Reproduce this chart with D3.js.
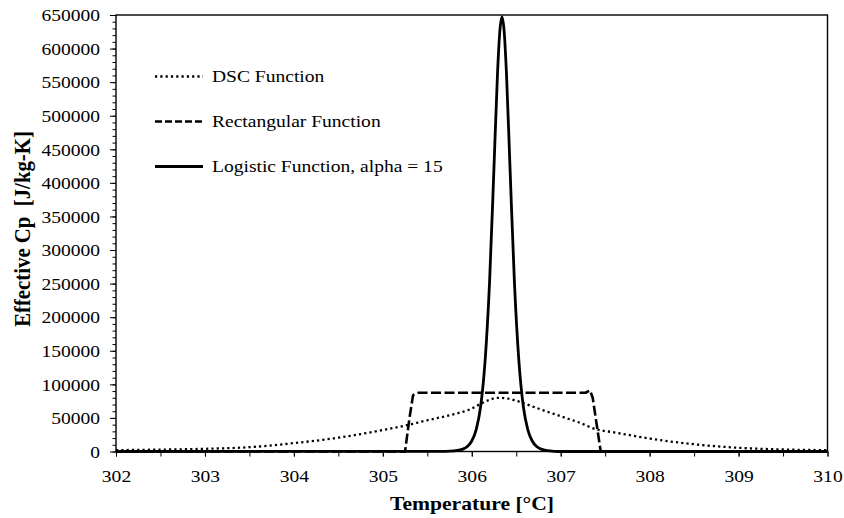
<!DOCTYPE html>
<html><head><meta charset="utf-8">
<script src="https://cdn.jsdelivr.net/npm/d3@7/dist/d3.min.js"></script>
<style>
body{margin:0;background:#fff}
text{font-family:"Liberation Serif","Times New Roman",serif;fill:#000}
</style>
</head><body><svg id="c" width="844" height="518"></svg>
<script>
// ---- data ----
const xTicks = [302,303,304,305,306,307,308,309,310];
const yTicks = [0,50000,100000,150000,200000,250000,300000,350000,400000,450000,500000,550000,600000,650000];
const seriesNames = ["DSC Function","Rectangular Function","Logistic Function, alpha = 15"];

const dscT  = [302.0,302.5,303.0,303.5,304.0,304.5,305.0,305.25,305.5,305.75,306.0,306.1,306.2,306.3,306.4,306.5,306.6,306.8,307.0,307.2,307.4,307.6,307.9,308.2,308.5,309.0,309.5,310.0];
const dscCp = [2000,2800,4000,6400,12500,20500,32000,38500,46500,54000,64000,71000,77000,80000,79000,75500,71000,61500,52500,43500,33000,28500,21500,15500,10800,5500,3000,2000];

const rectT  = [302.0,305.25,305.30,305.34,305.40,307.28,307.33,307.36,307.45,310.0];
const rectCp = [0,0,50000,84000,87500,87500,91000,80000,0,0];

const logT  = [302.0,305.70,305.80,305.90,305.95,306.00,306.05,306.10,306.15,306.20,306.25,306.29,306.315,306.34,306.365,306.39,306.43,306.48,306.53,306.58,306.63,306.68,306.73,306.78,306.88,306.98,310.0];
const logCp = [0,200,790,3500,7400,15600,32700,67000,134800,251500,423400,564000,624700,647000,624700,564000,423400,251500,134800,67000,32700,15600,7400,3500,790,0,0];

// ---- setup ----
const SX = 1.15;
const svg = d3.select('#c');
svg.append('rect').attr('width',844).attr('height',518).attr('fill','#fff');
const x = d3.scaleLinear().domain([302,310]).range([116,827.5]);
const y = d3.scaleLinear().domain([0,650000]).range([451.5,15]);

// minor y ticks
svg.append('g').attr('transform','translate(116,0)')
  .call(d3.axisLeft(y).tickValues(y.ticks(65)).tickSize(3.5).tickFormat(''))
  .call(g=>g.select('.domain').remove())
  .call(g=>g.selectAll('line').attr('stroke','#000').attr('stroke-width',1));
// major y ticks
const gy = svg.append('g').attr('transform','translate(116,0)')
  .call(d3.axisLeft(y).tickValues(yTicks).tickSize(6).tickFormat(d3.format('d')))
  .call(g=>g.select('.domain').remove());
gy.selectAll('line').attr('stroke','#000').attr('stroke-width',1);
gy.selectAll('text').attr('x',0).attr('dy','0.34em')
  .attr('transform','translate(-16,0) scale('+SX+',1)')
  .style('font-size','17px').style('font-family','"Liberation Serif","Times New Roman",serif').attr('fill','#000');

// x ticks
svg.append('g').attr('transform','translate(0,451.5)')
  .call(d3.axisBottom(x).tickValues(x.ticks(16)).tickSize(5).tickFormat(''))
  .call(g=>g.select('.domain').remove())
  .call(g=>g.selectAll('line').attr('stroke','#000').attr('stroke-width',1));
const gx = svg.append('g').attr('transform','translate(0,451.5)')
  .call(d3.axisBottom(x).tickValues(xTicks).tickSize(5).tickFormat(d3.format('d')))
  .call(g=>g.select('.domain').remove());
gx.selectAll('line').attr('stroke','#000').attr('stroke-width',1);
gx.selectAll('text').attr('y',0).attr('dy','0')
  .attr('transform','translate(0,30.5) scale('+SX+',1)')
  .style('font-size','17px').style('font-family','"Liberation Serif","Times New Roman",serif').attr('fill','#000');

// frame
svg.append('rect').attr('x',x(302)).attr('y',y(650000))
  .attr('width',x(310)-x(302)).attr('height',y(0)-y(650000))
  .attr('fill','none').attr('stroke','#000').attr('stroke-width',1.4);

// ---- lines ----
svg.append('clipPath').attr('id','pc').append('rect')
  .attr('x',x(302)).attr('y',y(650000)-4).attr('width',x(310)-x(302)).attr('height',y(0)-y(650000)+6);
const plot = svg.append('g').attr('clip-path','url(#pc)');

const lineM = d3.line().x(d=>x(d[0])).y(d=>y(d[1])).curve(d3.curveMonotoneX);
const lineL = d3.line().x(d=>x(d[0])).y(d=>y(d[1]));

plot.append('path').datum(dscT.map((t,i)=>[t,dscCp[i]]))
  .attr('d',lineM).attr('fill','none').attr('stroke','#000')
  .attr('stroke-width',2.3).attr('stroke-dasharray','2.2,3.1');
plot.append('path').datum(rectT.map((t,i)=>[t,rectCp[i]]))
  .attr('d',lineL).attr('fill','none').attr('stroke','#000')
  .attr('stroke-width',2.6).attr('stroke-dasharray','10,3.5').attr('stroke-linejoin','round');
plot.append('path').datum(logT.map((t,i)=>[t,logCp[i]]))
  .attr('d',lineM).attr('fill','none').attr('stroke','#000')
  .attr('stroke-width',2.8).attr('stroke-linejoin','round');

// ---- legend ----
const legY = [76.5,121.5,166.5];
const legDash = ['2.2,3.1','7,3',null];
const legW = [2.3,2.6,2.8];
seriesNames.forEach((n,i)=>{
  const l = svg.append('line').attr('x1',155).attr('x2',203).attr('y1',legY[i]).attr('y2',legY[i])
    .attr('stroke','#000').attr('stroke-width',legW[i]);
  if(legDash[i]) l.attr('stroke-dasharray',legDash[i]);
  svg.append('text').attr('transform','translate(212,'+(legY[i]+5.8)+') scale('+SX+',1)')
    .style('font-size','17px').text(n);
});

// ---- axis titles ----
svg.append('text').attr('transform','translate(472,510) scale('+SX+',1)')
  .attr('text-anchor','middle').style('font-size','18.8px').style('font-weight','bold')
  .text('Temperature [°C]');
svg.append('text').attr('transform','translate(30,229) scale('+SX+',1) rotate(-90)')
  .attr('text-anchor','middle').style('font-size','20.8px').style('font-weight','bold')
  .style('white-space','pre')
  .text('Effective Cp  [J/kg-K]');
</script>
</body></html>
